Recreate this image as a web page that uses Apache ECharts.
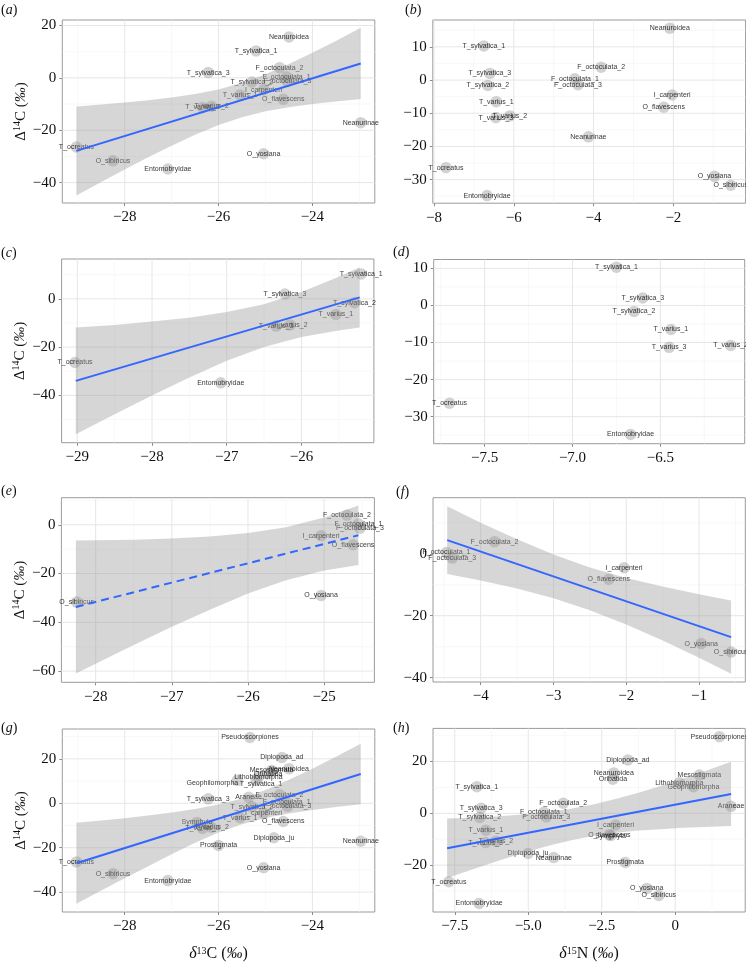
<!DOCTYPE html>
<html><head><meta charset="utf-8">
<script src="https://cdn.jsdelivr.net/npm/echarts@6/dist/echarts.min.js"></script>
<style>html,body{margin:0;padding:0;background:#fff}#c{width:746px;height:963px}</style>
</head><body><div id="c"></div>
<script>
// ---------------- DATA ----------------
const taxa = ['T_sylvatica_1','T_sylvatica_2','T_sylvatica_3','T_varius_1','T_varius_2','T_varius_3','T_ocreatus','Entomobryidae',
  'Neanuroidea','Neanurinae','F_octoculata_1','F_octoculata_2','F_octoculata_3','I_carpenteri','O_flavescens','O_yosiana','O_sibiricus',
  'Pseudoscorpiones','Diplopoda_ad','Mesostigmata','Oribatida','Lithobiomorpha','Geophilomorpha','Araneae','Symphyla','Diplopoda_ju','Prostigmata'];
const d13C = [-25.20,-25.29,-26.22,-25.54,-26.15,-26.34,-29.03,-27.08,
  -24.50,-22.97,-24.55,-24.70,-24.53,-25.04,-24.62,-25.04,-28.25,
  -25.33,-24.65,-24.87,-24.94,-25.15,-25.60,-25.36,-26.46,-24.82,-26.00];
const d15N = [-6.75,-6.65,-6.60,-6.44,-6.10,-6.45,-7.70,-6.67,
  -2.09,-4.13,-4.47,-3.81,-4.39,-2.03,-2.24,-0.97,-0.56,
  1.50,-1.61,0.82,-2.12,0.14,0.62,1.90,-2.20,-5.01,-1.70];
const D14C = [10.3,-1.6,2.0,-6.5,-10.8,-11.3,-26.4,-34.8,
  15.6,-17.1,0.4,3.9,-1.4,-4.5,-8.2,-29.0,-31.7,
  29.6,20.6,14.8,13.2,11.8,10.3,2.7,-8.6,-15.5,-19.0];

const taxaCollembola = taxa.slice(0, 17);
const taxaEntomobryomorpha = taxa.slice(0, 8);
const taxaEuedaphic = ['F_octoculata_1','F_octoculata_2','F_octoculata_3','I_carpenteri','O_flavescens','O_yosiana','O_sibiricus'];

// fitted lines (end values) and confidence bands
const bandA_x  = [-29.03,-28.5,-28,-27.5,-27,-26.5,-26,-25.5,-25,-24.5,-24,-23.5,-22.97];
const bandA_hi = [-10.9,-10.2,-9.4,-8.55,-7.5,-6.2,-4.4,-1.9,1.4,5.3,9.6,14.1,19.1];
const bandA_lo = [-44.9,-39.8,-35.0,-30.35,-25.9,-21.7,-18.0,-15.0,-12.8,-11.2,-10.0,-9.0,-8.1];
const fitA = [-27.9, 5.5];

const bandC_x  = [-29.02,-28.5,-28,-27.5,-27,-26.5,-26,-25.5,-25.22];
const bandC_hi = [-11.9,-10.8,-9.4,-7.8,-5.5,-2.2,2.8,9.1,13.1];
const bandC_lo = [-56.1,-47.8,-40.0,-32.6,-25.7,-20.0,-15.8,-13.1,-11.9];
const fitC = [-34.0, 0.6];

const bandE_x  = [-28.26,-27.5,-27,-26.5,-26,-25.5,-25,-24.55];
const bandE_hi = [-6.4,-6.1,-5.6,-4.8,-3.4,-1.0,3.0,7.9];
const bandE_lo = [-61.0,-49.3,-41.8,-34.8,-28.2,-22.8,-18.8,-16.5];
const fitE = [-33.7, -4.3];

const bandF_x  = [-4.46,-4,-3.5,-3,-2.5,-2,-1.5,-1,-0.56];
const bandF_hi = [15.3,10.0,4.65,-0.2,-4.4,-7.8,-10.6,-13.1,-15.05];
const bandF_lo = [-6.5,-8.6,-11.25,-14.4,-18.2,-22.8,-28.0,-33.6,-38.75];
const fitF = [4.4, -26.9];

const bandG_x  = [-29.03,-28.5,-28,-27.5,-27,-26.5,-26,-25.5,-25,-24.5,-24,-23.5,-22.97];
const bandG_hi = [-8.8,-7.7,-6.7,-5.5,-4.1,-2.6,-0.6,2.2,6.0,10.6,15.6,20.9,26.8];
const bandG_lo = [-45.2,-39.3,-33.7,-28.3,-22.9,-17.8,-13.2,-9.4,-6.6,-4.6,-3.0,-1.7,-0.4];
const fitG = [-27.0, 13.2];

const bandH_x  = [-7.76,-6.5,-5.75,-5,-4.25,-3.5,-2.75,-2,-1.25,-0.5,0.25,1,1.9];
const bandH_hi = [-2.0,-1.5,-0.96,-0.3,0.6,1.9,3.5,5.6,7.97,10.6,13.4,16.3,19.9];
const bandH_lo = [-25.0,-20.1,-17.3,-14.7,-12.3,-10.3,-8.7,-7.5,-6.67,-6.1,-5.6,-5.3,-4.9];
const fitH = [-13.5, 7.5];

// tick values (major / minor)
const ticksC13 = [-28,-26,-24], minorC13 = [-29,-27,-25,-23];
const ticksN15b = [-8,-6,-4,-2], minorN15b = [-7,-5,-3,-1];
const ticksC13c = [-29,-28,-27,-26], minorC13c = [-28.5,-27.5,-26.5,-25.5];
const ticksN15d = [-7.5,-7.0,-6.5], minorN15d = [-7.75,-7.25,-6.75,-6.25];
const ticksC13e = [-28,-27,-26,-25], minorC13e = [-27.5,-26.5,-25.5,-24.5];
const ticksN15f = [-4,-3,-2,-1], minorN15f = [-4.5,-3.5,-2.5,-1.5,-0.5];
const ticksN15h = [-7.5,-5.0,-2.5,0], minorN15h = [-6.25,-3.75,-1.25,1.25];
const ticksYa = [-40,-20,0,20], minorYa = [-30,-10,10];
const ticksYb = [-30,-20,-10,0,10], minorYb = [-35,-25,-15,-5,5,15];
const ticksYc = [-40,-20,0], minorYc = [-50,-30,-10,10];
const ticksYd = [-30,-20,-10,0,10], minorYd = [-35,-25,-15,-5,5];
const ticksYe = [-60,-40,-20,0], minorYe = [-50,-30,-10,10];
const ticksYf = [-40,-20,0], minorYf = [-30,-10,10];
const ticksYg = [-40,-20,0,20], minorYg = [-30,-10,10,30];
const ticksYh = [-20,0,20], minorYh = [-30,-10,10,30];

// ---------------- LAYOUT ----------------
const panels = [
  {letter:'a', box:[62.3,20,312.5,183], xr:[-29.33,-22.67], yr:[-47.8,22.1], xv:d13C, set:taxaCollembola,
   xt:ticksC13, xm:minorC13, yt:ticksYa, ym:minorYa, dec:0, band:[bandA_x,bandA_lo,bandA_hi], fit:fitA, dash:false, ytitle:true, xtitle:null, lp:[1,3]},
  {letter:'b', box:[432.8,20,312.8,183.2], xr:[-8.03,-0.19], yr:[-37.1,18.1], xv:d15N, set:taxaCollembola,
   xt:ticksN15b, xm:minorN15b, yt:ticksYb, ym:minorYb, dec:0, band:null, ytitle:false, xtitle:null, lp:[405,3]},
  {letter:'c', box:[61.6,259,312.3,183.7], xr:[-29.21,-25.03], yr:[-59.6,16.5], xv:d13C, set:taxaEntomobryomorpha,
   xt:ticksC13c, xm:minorC13c, yt:ticksYc, ym:minorYc, dec:0, band:[bandC_x,bandC_lo,bandC_hi], fit:fitC, dash:false, ytitle:true, xtitle:null, lp:[1,246]},
  {letter:'d', box:[433.7,259.5,311,184.2], xr:[-7.79,-6.02], yr:[-37.3,12.4], xv:d15N, set:taxaEntomobryomorpha,
   xt:ticksN15d, xm:minorN15d, yt:ticksYd, ym:minorYd, dec:1, band:null, ytitle:false, xtitle:null, lp:[393,245]},
  {letter:'e', box:[61.4,497.7,313,184.6], xr:[-28.45,-24.34], yr:[-64.6,11.1], xv:d13C, set:taxaEuedaphic,
   xt:ticksC13e, xm:minorC13e, yt:ticksYe, ym:minorYe, dec:0, band:[bandE_x,bandE_lo,bandE_hi], fit:fitE, dash:true, ytitle:true, xtitle:null, lp:[1,484]},
  {letter:'f', box:[433,497.7,312.3,184.3], xr:[-4.655,-0.365], yr:[-41.4,18.1], xv:d15N, set:taxaEuedaphic,
   xt:ticksN15f, xm:minorN15f, yt:ticksYf, ym:minorYf, dec:0, band:[bandF_x,bandF_lo,bandF_hi], fit:fitF, dash:false, ytitle:false, xtitle:null, lp:[396,485]},
  {letter:'g', box:[62.3,729,312.5,183], xr:[-29.33,-22.67], yr:[-48.95,33.45], xv:d13C, set:taxa,
   xt:ticksC13, xm:minorC13, yt:ticksYg, ym:minorYg, dec:0, band:[bandG_x,bandG_lo,bandG_hi], fit:fitG, dash:false, ytitle:true, xtitle:'C', lp:[1,721]},
  {letter:'h', box:[433,728.4,312.2,184.3], xr:[-8.24,2.38], yr:[-38.1,32.8], xv:d15N, set:taxa,
   xt:ticksN15h, xm:minorN15h, yt:ticksYh, ym:minorYh, dec:1, band:[bandH_x,bandH_lo,bandH_hi], fit:fitH, dash:false, ytitle:false, xtitle:'N', lp:[393,721]}
];
const labelNudge = {'g:Geophilomorpha':[-25,3], 'g:T_sylvatica_1':[5,4]};

const SERIF = "'Liberation Serif','Times New Roman',serif";
const SANS = "'Liberation Sans',Arial,sans-serif";
function fmt(v, dec){ if (v === 0) return '0'; return v.toFixed(dec).replace('-', '\u2212'); }

const grids=[], xAxes=[], yAxes=[], series=[], graphics=[];
panels.forEach((p, i) => {
  grids.push({left:p.box[0], top:p.box[1], width:p.box[2], height:p.box[3], show:true, borderColor:'#9a9a9a', borderWidth:1, backgroundColor:'#fff', containLabel:false});
  const xa = {gridIndex:i, type:'value', min:p.xr[0], max:p.xr[1], splitLine:{show:false},
    axisLine:{show:false, onZero:false}, axisTick:{show:true, length:3, lineStyle:{color:'#8a8a8a'}, customValues:p.xt},
    axisLabel:{customValues:p.xt, formatter:v=>fmt(v,p.dec), fontFamily:SERIF, fontSize:15, color:'#111', margin:7}};
  if (p.xtitle) {
    xa.name = '{i|\u03b4}{s|' + (p.xtitle==='C' ? '13' : '15') + '}{a|' + p.xtitle + ' (}{i|\u2030}{a|)}';
    xa.nameLocation='middle'; xa.nameGap=34;
    xa.nameTextStyle={rich:{a:{fontFamily:SERIF,fontSize:16,color:'#111',verticalAlign:'bottom'},
      i:{fontFamily:SERIF,fontSize:16,fontStyle:'italic',color:'#111',verticalAlign:'bottom'},
      s:{fontFamily:SERIF,fontSize:10,color:'#111',verticalAlign:'bottom',padding:[0,0,6,0]}}};
  }
  xAxes.push(xa);
  const ya = {gridIndex:i, type:'value', min:p.yr[0], max:p.yr[1], splitLine:{show:false},
    axisLine:{show:false, onZero:false}, axisTick:{show:true, length:3, lineStyle:{color:'#8a8a8a'}, customValues:p.yt},
    axisLabel:{customValues:p.yt, formatter:v=>fmt(v,0), fontFamily:SERIF, fontSize:15, color:'#111', margin:6}};
  if (p.ytitle) {
    ya.name = '{a|\u0394}{s|14}{a|C (}{i|\u2030}{a|)}';
    ya.nameLocation='middle'; ya.nameGap=34; ya.nameRotate=90;
    ya.nameTextStyle={rich:{a:{fontFamily:SERIF,fontSize:15,color:'#111',verticalAlign:'bottom'},
      i:{fontFamily:SERIF,fontSize:15,fontStyle:'italic',color:'#111',verticalAlign:'bottom'},
      s:{fontFamily:SERIF,fontSize:10,color:'#111',verticalAlign:'bottom',padding:[0,0,6,0]}}};
  }
  yAxes.push(ya);

  // grid lines
  series.push({type:'custom', xAxisIndex:i, yAxisIndex:i, z:1, silent:true, data:[[0,0]],
    renderItem(params, api){
      const cs = params.coordSys, ch = [];
      const v = (val,c,w)=>{const x=api.coord([val,0])[0]; ch.push({type:'line',shape:{x1:x,y1:cs.y,x2:x,y2:cs.y+cs.height},style:{stroke:c,lineWidth:w}});};
      const h = (val,c,w)=>{const y=api.coord([0,val])[1]; ch.push({type:'line',shape:{x1:cs.x,y1:y,x2:cs.x+cs.width,y2:y},style:{stroke:c,lineWidth:w}});};
      p.xm.forEach(t=>v(t,'#f3f3f3',0.6)); p.ym.forEach(t=>h(t,'#f3f3f3',0.6));
      p.xt.forEach(t=>v(t,'#e6e6e6',1)); p.yt.forEach(t=>h(t,'#e6e6e6',1));
      return {type:'group', children:ch};
    }});

  // points + labels
  series.push({type:'scatter', xAxisIndex:i, yAxisIndex:i, z:2, silent:true, symbolSize:11.5,
    itemStyle:{color:'rgba(130,130,130,0.45)'},
    label:{show:true, position:'inside', formatter:'{b}', fontFamily:SANS, fontSize:7, color:'#000'},
    data:p.set.map(n=>{const k=taxa.indexOf(n); const o=labelNudge[p.letter+':'+n];
      const d={name:n, value:[p.xv[k], D14C[k]]}; if(o) d.label={offset:o}; return d;})});

  if (p.band) {
    const [bx, blo, bhi] = p.band;
    series.push({type:'custom', xAxisIndex:i, yAxisIndex:i, z:3, silent:true, data:[[bx[0], blo[0]]],
      renderItem(params, api){
        const pts=[];
        for(let k=0;k<bx.length;k++) pts.push(api.coord([bx[k], bhi[k]]));
        for(let k=bx.length-1;k>=0;k--) pts.push(api.coord([bx[k], blo[k]]));
        return {type:'polygon', shape:{points:pts}, style:{fill:'rgba(153,153,153,0.4)'}};
      }});
    series.push({type:'line', xAxisIndex:i, yAxisIndex:i, z:4, silent:true, symbol:'none',
      lineStyle:{color:'#3366FF', width:2, type:p.dash?[8,5]:'solid'},
      data:[[bx[0], p.fit[0]], [bx[bx.length-1], p.fit[1]]]});
  }

  graphics.push({type:'text', left:p.lp[0], top:p.lp[1], style:{text:'{a|(}{i|'+p.letter+'}{a|)}',
    rich:{a:{fontFamily:SERIF,fontSize:14,fill:'#111'}, i:{fontFamily:SERIF,fontSize:14,fontStyle:'italic',fill:'#111'}}}});
});

const chart = echarts.init(document.getElementById('c'), null, {renderer:'canvas'});
chart.setOption({animation:false, backgroundColor:'#fff', grid:grids, xAxis:xAxes, yAxis:yAxes, series:series, graphic:graphics});
</script></body></html>
